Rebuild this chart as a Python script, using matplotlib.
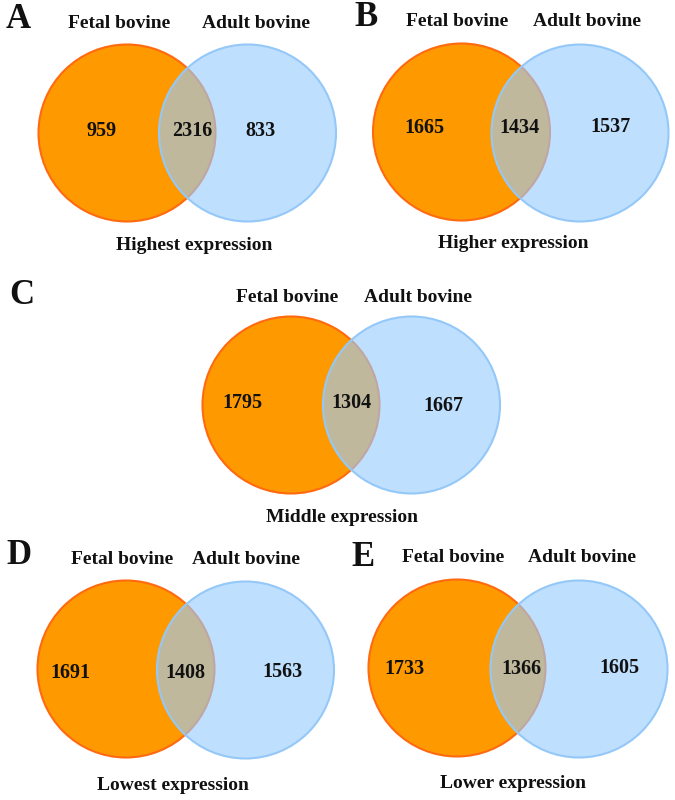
import matplotlib
matplotlib.use("Agg")
import matplotlib.pyplot as plt
from matplotlib.patches import Circle

# ---- data ----
panel_letters = ["A", "B", "C", "D", "E"]
panel_titles = ["Highest expression", "Higher expression", "Middle expression",
                "Lowest expression", "Lower expression"]
set_names = ["Fetal bovine", "Adult bovine"]
fetal_only = [959, 1665, 1795, 1691, 1733]
shared = [2316, 1434, 1304, 1408, 1366]
adult_only = [833, 1537, 1667, 1563, 1605]

# ---- layout (pixel coordinates, y downward) ----
layout = [
    dict(c1=(127, 133), c2=(247.5, 133), letter=(18, 20), n1=(119, 23), n2=(256, 23),
         v1=(102, 131), v12=(192, 131), v2=(260, 131), title=(194, 246)),
    dict(c1=(461.5, 132), c2=(580, 133), letter=(366, 18), n1=(457, 21), n2=(587, 22),
         v1=(424, 128), v12=(519, 128), v2=(610, 127), title=(513, 243)),
    dict(c1=(291, 405), c2=(411.5, 405), letter=(22, 296), n1=(287, 297), n2=(418, 297),
         v1=(242, 403), v12=(351, 403), v2=(443, 406), title=(342, 518)),
    dict(c1=(126, 669), c2=(245.5, 670), letter=(19, 555), n1=(122, 559), n2=(246, 559),
         v1=(70, 673), v12=(185, 673), v2=(283, 672), title=(173, 786)),
    dict(c1=(457, 668), c2=(579, 669), letter=(363, 558), n1=(453, 558), n2=(582, 558),
         v1=(404, 669), v12=(521, 669), v2=(619, 668), title=(513, 784)),
]
R = 88.5

fig = plt.figure(figsize=(6.75, 8), dpi=100)
ax = fig.add_axes([0, 0, 1, 1])
ax.set_xlim(0, 675)
ax.set_ylim(800, 0)
ax.axis("off")

serif = ["Liberation Serif", "DejaVu Serif"]
kw = dict(family=serif, fontweight="bold", color="#111111", ha="center", va="center")

for i, L in enumerate(layout):
    # orange circle
    ax.add_patch(Circle(L["c1"], R, facecolor="#FF9900", edgecolor="#FF6A10", lw=1.5, zorder=1))
    # blue translucent fill + edge
    ax.add_patch(Circle(L["c2"], R, facecolor="#99CCFF", edgecolor="none", alpha=0.62, zorder=2))
    ax.add_patch(Circle(L["c2"], R, facecolor="none", edgecolor="#94C8F8", lw=1.5, zorder=3))

    ax.text(*L["letter"], panel_letters[i], fontsize=25, **kw)
    ax.text(*L["n1"], set_names[0], fontsize=14, **kw)
    ax.text(*L["n2"], set_names[1], fontsize=14, **kw)
    ax.text(*L["v1"], str(fetal_only[i]), fontsize=14.5, zorder=5, **kw)
    ax.text(*L["v12"], str(shared[i]), fontsize=14.5, zorder=5, **kw)
    ax.text(*L["v2"], str(adult_only[i]), fontsize=14.5, zorder=5, **kw)
    ax.text(*L["title"], panel_titles[i], fontsize=14, **kw)

fig.savefig("out.png", dpi=100, facecolor="white")
